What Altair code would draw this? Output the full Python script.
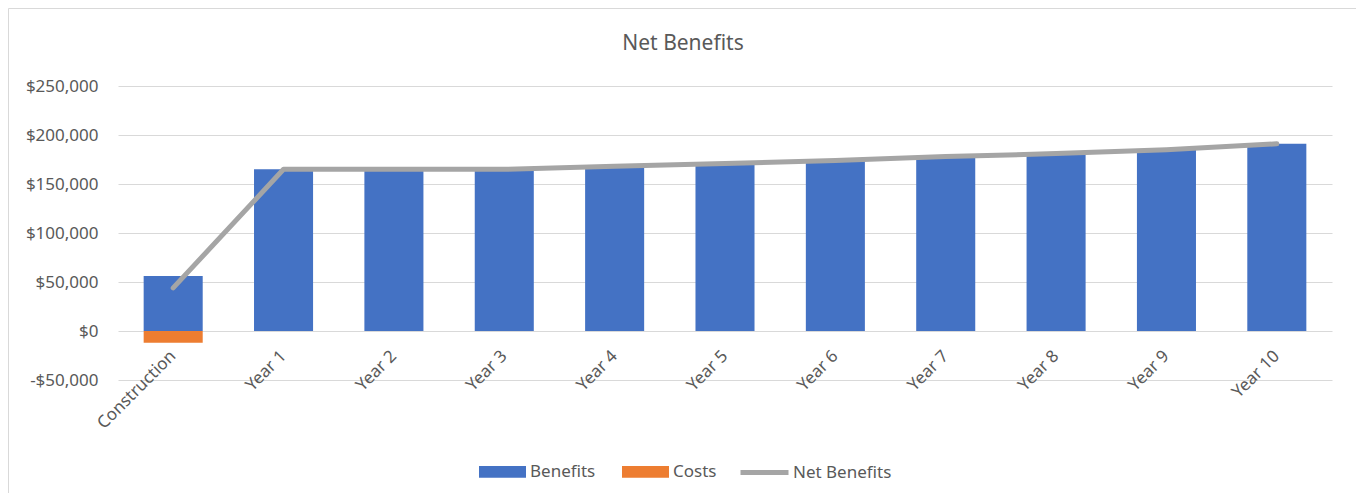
import altair as alt
import pandas as pd

categories = ["Construction", "Year 1", "Year 2", "Year 3", "Year 4", "Year 5",
              "Year 6", "Year 7", "Year 8", "Year 9", "Year 10"]
benefits = [56000, 165000, 165000, 165000, 168000, 171000, 174000, 178000, 181000, 185000, 191000]
costs = [-12000, 0, 0, 0, 0, 0, 0, 0, 0, 0, 0]
net_benefits = [44000, 165000, 165000, 165000, 168000, 171000, 174000, 178000, 181000, 185000, 191000]

bar_series = ["Benefits", "Costs"]
bar_colors = ["#4472C4", "#ED7D31"]
line_series = ["Net Benefits"]
line_colors = ["#A5A5A5"]

bars = pd.DataFrame(
    [{"cat": c, "series": "Benefits", "value": v} for c, v in zip(categories, benefits)]
    + [{"cat": c, "series": "Costs", "value": v} for c, v in zip(categories, costs)]
)
line = pd.DataFrame({"cat": categories, "series": "Net Benefits", "value": net_benefits})

FONT = "Noto Sans"
W, H = 1214, 294

xscale = alt.Scale(domain=categories, paddingInner=0.465, paddingOuter=0.2325)
yscale = alt.Scale(domain=[-50000, 250000], nice=False)

common_legend = dict(
    title=None,
    orient="none",
    direction="horizontal",
    labelFont=FONT,
    labelFontSize=17,
    labelColor="#595959",
    labelOffset=4,
    columnPadding=26,
    padding=0,
)

fill = alt.Fill(
    "series:N",
    scale=alt.Scale(domain=bar_series, range=bar_colors),
    legend=alt.Legend(
        legendX=361,
        legendY=362,
        symbolType="M-1,-0.25L1,-0.25L1,0.25L-1,0.25Z",
        symbolSize=2209,
        symbolStrokeWidth=0,
        symbolOpacity=1,
        **common_legend,
    ),
)
stroke = alt.Stroke(
    "series:N",
    scale=alt.Scale(domain=line_series, range=line_colors),
    legend=alt.Legend(
        legendX=620,
        legendY=360,
        symbolType="stroke",
        symbolSize=2304,
        symbolStrokeWidth=5,
        symbolOpacity=1,
        **{**common_legend, "labelOffset": 2},
    ),
)

xaxis = alt.Axis(
    title=None,
    labelAngle=-45,
    labelAlign="right",
    labelBaseline="middle",
    labelFont=FONT,
    labelFontSize=17,
    labelColor="#595959",
    labelPadding=22,
    domain=False,
    ticks=False,
    grid=False,
    offset=-49,
)
yaxis = alt.Axis(
    title=None,
    values=[-50000, 0, 50000, 100000, 150000, 200000, 250000],
    labelExpr="datum.value < 0 ? '-$' + format(-datum.value, ',') : '$' + format(datum.value, ',')",
    labelFont=FONT,
    labelFontSize=17,
    labelColor="#595959",
    labelPadding=20,
    domain=False,
    ticks=False,
    gridColor="#D9D9D9",
    gridWidth=1,
)

bar_layer = alt.Chart(bars).mark_bar().encode(
    x=alt.X("cat:N", scale=xscale, axis=xaxis, sort=categories),
    y=alt.Y("value:Q", scale=yscale, axis=yaxis),
    fill=fill,
)

line_layer = alt.Chart(line).mark_line(strokeWidth=5, strokeCap="round", strokeJoin="round").encode(
    x=alt.X("cat:N", scale=xscale, sort=categories),
    y=alt.Y("value:Q", scale=yscale),
    stroke=stroke,
)

border = alt.Chart(pd.DataFrame({"a": [0]})).mark_rect(
    fill="transparent", stroke="#D9D9D9", strokeWidth=1
).encode(
    x=alt.value(-109.5), x2=alt.value(W + 25.5), y=alt.value(-77.5), y2=alt.value(H + 130)
)

chart = alt.layer(border, bar_layer, line_layer).resolve_scale(
    fill="independent", stroke="independent"
).properties(
    width=W,
    height=H,
    title=alt.Title(
        "Net Benefits",
        font=FONT,
        fontSize=21,
        fontWeight="normal",
        color="#595959",
        anchor="middle",
        frame="bounds",
        offset=-46,
    ),
    autosize=alt.AutoSizeParams(type="none"),
    padding={"left": 110, "top": 78, "right": 24, "bottom": 113},
).configure(background="white").configure_view(stroke="transparent", strokeWidth=0)

chart.save("out.html", embed_options={"renderer": "svg", "actions": False})
